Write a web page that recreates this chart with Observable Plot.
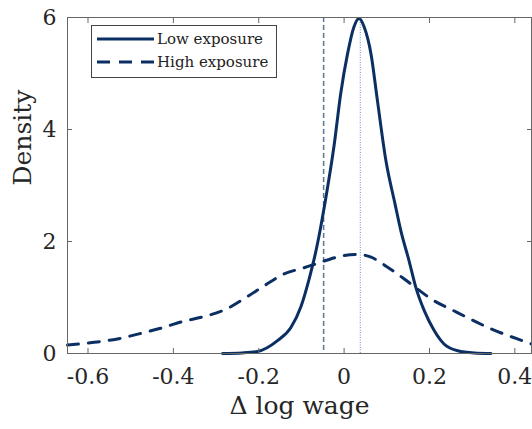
<!DOCTYPE html>
<html>
<head>
<meta charset="utf-8">
<script src="https://cdn.jsdelivr.net/npm/d3@7"></script>
<script src="https://cdn.jsdelivr.net/npm/@observablehq/plot@0.6"></script>
<style>
  html, body { margin: 0; padding: 0; background: #fff; }
  #wrap { position: relative; width: 532px; height: 429px; }
  #legend {
    position: absolute; left: 91px; top: 25px; width: 186px; height: 53px;
    border: 1px solid #444; background: #fff; box-sizing: border-box;
    font-family: "DejaVu Serif", serif; font-size: 15px; color: #222;
  }
  #legend .row { position: absolute; left: 5px; height: 20px; display: flex; align-items: center; }
  #legend svg { width: 57px; height: 8px; margin-right: 3px; }
</style>
</head>
<body>
<div id="wrap"></div>
<script>
const lowX = [-0.285,-0.24,-0.203,-0.156,-0.125,-0.101,-0.082,-0.068,-0.055,-0.045,-0.023,-0.008,0.008,0.023,0.035,0.047,0.063,0.078,0.098,0.119,0.133,0.152,0.168,0.188,0.211,0.234,0.266,0.305,0.344];
const lowY = [0,0.01,0.036,0.23,0.46,0.84,1.33,1.76,2.25,2.68,3.74,4.64,5.35,5.83,5.98,5.83,5.35,4.52,3.44,2.68,2.19,1.66,1.18,0.76,0.41,0.17,0.05,0.01,0];
const highX = [-0.648,-0.586,-0.531,-0.481,-0.43,-0.379,-0.328,-0.277,-0.23,-0.187,-0.141,-0.094,-0.043,0,0.031,0.063,0.102,0.141,0.172,0.211,0.25,0.297,0.344,0.406,0.439];
const highY = [0.15,0.20,0.26,0.35,0.45,0.57,0.66,0.79,1.0,1.21,1.42,1.53,1.66,1.75,1.77,1.72,1.54,1.33,1.15,0.94,0.79,0.61,0.44,0.26,0.17];
const meanHigh = -0.048;
const meanLow = 0.038;
const xTicks = [-0.6,-0.4,-0.2,0,0.2,0.4];
const yTicks = [0,2,4,6];
const seriesNames = ["Low exposure","High exposure"];

const low = lowX.map((x,i)=>({x, y: lowY[i]}));
const high = highX.map((x,i)=>({x, y: highY[i]}));
const navy = "#0b2f63";
const axisColor = "#666";
const textColor = "#262626";

const chart = Plot.plot({
  width: 532, height: 429,
  marginLeft: 67, marginRight: 1, marginTop: 17, marginBottom: 76,
  style: {fontFamily: "'DejaVu Serif', serif", fontSize: "22px", color: textColor, background: "#fff"},
  x: {domain: [-0.648, 0.439]},
  y: {domain: [0, 6]},
  marks: [
    Plot.ruleX([meanHigh], {stroke: "#5b7593", strokeWidth: 1.5, strokeDasharray: "5,3"}),
    Plot.ruleX([meanLow], {stroke: "#8ea3c9", strokeWidth: 1.3, strokeDasharray: "1,1.5"}),
    Plot.line(high, {x: "x", y: "y", stroke: navy, strokeWidth: 3, strokeDasharray: "11,10", curve: "monotone-x"}),
    Plot.line(low, {x: "x", y: "y", stroke: navy, strokeWidth: 3, curve: "monotone-x"}),
    Plot.frame({stroke: axisColor, strokeWidth: 1}),
    Plot.axisX(xTicks, {anchor: "bottom", tickSize: -5, stroke: axisColor, tickPadding: 20, label: null, tickFormat: d => String(d), fill: textColor}),
    Plot.axisX(xTicks, {anchor: "top", tickSize: -5, stroke: axisColor, text: null, label: null}),
    Plot.axisY(yTicks, {anchor: "left", tickSize: -5, stroke: axisColor, tickPadding: 16, label: null, tickFormat: d => String(d), fill: textColor}),
    Plot.axisY(yTicks, {anchor: "right", tickSize: -5, stroke: axisColor, text: null, label: null}),
    Plot.text(["Δ log wage"], {frameAnchor: "bottom", dy: 52, lineAnchor: "middle", fontSize: 25, fill: textColor}),
    Plot.text(["Density"], {frameAnchor: "left", dx: -45, rotate: -90, lineAnchor: "middle", fontSize: 25, fill: textColor})
  ]
});
const wrap = document.getElementById("wrap");
wrap.appendChild(chart);

const legend = document.createElement("div");
legend.id = "legend";
legend.innerHTML = `
  <div class="row" style="top:3px"><svg><line x1="0" y1="4" x2="57" y2="4" stroke="${navy}" stroke-width="3"/></svg><span>${seriesNames[0]}</span></div>
  <div class="row" style="top:26px"><svg><line x1="0" y1="4" x2="57" y2="4" stroke="${navy}" stroke-width="3" stroke-dasharray="13,9"/></svg><span>${seriesNames[1]}</span></div>`;
wrap.appendChild(legend);
</script>
</body>
</html>
